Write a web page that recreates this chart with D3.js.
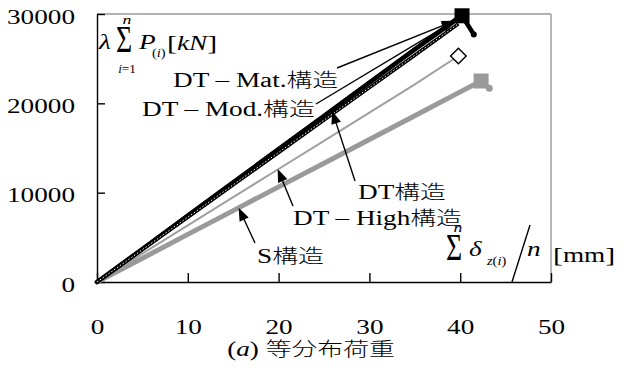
<!DOCTYPE html>
<html>
<head>
<meta charset="utf-8">
<script src="https://cdn.jsdelivr.net/npm/d3@7"></script>
<style>
  body { margin: 0; background: #fff; }
  svg { display: block; }
</style>
</head>
<body>
<svg id="chart" width="632" height="372"></svg>
<script>
// Load vs. mean vertical displacement for each structure type
const dispDT   = [0, 5, 10, 15, 20, 25, 30, 35, 40.2, 41.5];
const loadDT   = [0, 3700, 7420, 11120, 14850, 18560, 22300, 26020, 29800, 27700];
const dispMat  = [0, 5, 10, 15, 20, 25, 30, 35, 40.0];
const loadMat  = [0, 3760, 7520, 11250, 14980, 18700, 22430, 26150, 29850];
const dispMod  = [0, 5, 10, 15, 20, 25, 30, 35, 39.8];
const loadMod  = [0, 3620, 7250, 10880, 14500, 18120, 21750, 25380, 28900];
const dispHigh = [0, 5, 10, 15, 20, 25, 30, 35, 39.8];
const loadHigh = [0, 3170, 6340, 9500, 12650, 15800, 18960, 22120, 25300];
const dispS    = [0, 5, 10, 15, 20, 25, 30, 35, 40, 42.3, 43.2];
const loadS    = [0, 2660, 5330, 7990, 10650, 13300, 15960, 18620, 21280, 22500, 21700];

const xTicks = [0, 10, 20, 30, 40, 50];
const yTicks = [0, 10000, 20000, 30000];

const SERIF = "'Liberation Serif', 'Times New Roman', serif";
const CJK = "'Noto Sans CJK JP', sans-serif";
const SX = 1.36;   // horizontal text stretch
const FS = 20;

const svg = d3.select("#chart");
const x = d3.scaleLinear().domain([0, 50]).range([97, 551]);
const y = d3.scaleLinear().domain([0, 30000]).range([282, 14]);

const pts = (xs, ys) => xs.map((d, i) => [d, ys[i]]);
const line = d3.line().x(d => x(d[0])).y(d => y(d[1]));

// frame: grey top/right borders
svg.append("line").attr("x1", x(0)).attr("x2", x(50)).attr("y1", y(30000)).attr("y2", y(30000))
  .attr("stroke", "#9a9a9a").attr("stroke-width", 1.4);
svg.append("line").attr("x1", x(50)).attr("x2", x(50)).attr("y1", y(30000)).attr("y2", y(0))
  .attr("stroke", "#9a9a9a").attr("stroke-width", 1.4);

// axes
const gx = svg.append("g").attr("transform", `translate(0,${y(0)})`)
  .call(d3.axisBottom(x).tickValues(xTicks).tickFormat(d3.format("d"))
    .tickSizeInner(-9).tickSizeOuter(0).tickPadding(38));
const gy = svg.append("g").attr("transform", `translate(${x(0)},0)`)
  .call(d3.axisLeft(y).tickValues(yTicks).tickFormat(d3.format("d"))
    .tickSizeInner(-8).tickSizeOuter(0).tickPadding(0));
[gx, gy].forEach(g => {
  g.selectAll("path, line").attr("stroke", "#000").attr("stroke-width", 1.4);
  g.selectAll("text").attr("fill", "#000").style("font-family", SERIF).style("font-size", FS + "px");
});
gx.selectAll("text").attr("transform", `scale(${SX},1)`);
gy.selectAll("text").attr("x", 0).attr("dy", "0.45em").attr("transform", `translate(-22,0) scale(${SX},1)`);

// data lines
const plot = svg.append("g");
plot.append("path").datum(pts(dispS, loadS)).attr("d", line)
  .attr("fill", "none").attr("stroke", "#9a9a9a").attr("stroke-width", 5).attr("stroke-linecap", "round");
plot.append("path").datum(pts(dispHigh, loadHigh)).attr("d", line)
  .attr("fill", "none").attr("stroke", "#a0a0a0").attr("stroke-width", 2);
plot.append("path").datum(pts(dispDT, loadDT)).attr("d", line)
  .attr("fill", "none").attr("stroke", "#000").attr("stroke-width", 4.5).attr("stroke-linecap", "round");
plot.append("path").datum(pts(dispMat, loadMat)).attr("d", line)
  .attr("fill", "none").attr("stroke", "#000").attr("stroke-width", 3);
plot.append("path").datum(pts(dispMod, loadMod)).attr("d", line)
  .attr("fill", "none").attr("stroke", "#000").attr("stroke-width", 3.5);
plot.append("path").datum(pts(dispMod, loadMod)).attr("d", line)
  .attr("fill", "none").attr("stroke", "#fff").attr("stroke-width", 1).attr("stroke-dasharray", "1.5,2");

// end markers at peak load
const peakIdx = ys => ys.indexOf(d3.max(ys));
const sq = 15;
const iS = peakIdx(loadS), iDT = peakIdx(loadDT);
plot.append("rect").attr("x", x(dispS[iS]) - sq / 2).attr("y", y(loadS[iS]) - sq / 2)
  .attr("width", sq).attr("height", sq).attr("fill", "#9a9a9a");
plot.append("circle").attr("cx", x(dispS[dispS.length - 1])).attr("cy", y(loadS[loadS.length - 1]))
  .attr("r", 3.5).attr("fill", "#9a9a9a");
plot.append("rect").attr("x", x(dispDT[iDT]) - sq / 2).attr("y", y(loadDT[iDT]) - sq / 2)
  .attr("width", sq).attr("height", sq).attr("fill", "#000");
plot.append("circle").attr("cx", x(dispDT[dispDT.length - 1])).attr("cy", y(loadDT[loadDT.length - 1]))
  .attr("r", 3).attr("fill", "#000");
const hx = x(dispHigh[dispHigh.length - 1]), hy = y(loadHigh[loadHigh.length - 1]);
plot.append("rect").attr("x", -5.5).attr("y", -5.5).attr("width", 11).attr("height", 11)
  .attr("transform", `translate(${hx},${hy}) rotate(45)`)
  .attr("fill", "#fff").attr("stroke", "#000").attr("stroke-width", 1.4);

// text helper with horizontal stretch; CJK runs use a lighter sans face
const isCJK = ch => /[\u3000-\u9fff]/.test(ch);
function label(g, px, py, parts, anchor = "start", sx = SX) {
  const t = g.append("text").attr("transform", `translate(${px},${py}) scale(${sx},1)`)
    .attr("text-anchor", anchor).style("font-family", SERIF).style("font-size", FS + "px").attr("fill", "#000");
  parts.forEach(p => {
    const runs = [];
    for (const ch of p.t) {
      const c = isCJK(ch);
      if (runs.length && runs[runs.length - 1].c === c) runs[runs.length - 1].s += ch;
      else runs.push({c, s: ch});
    }
    runs.forEach((r, k) => {
      const s = t.append("tspan").text(r.s);
      if (r.c) s.style("font-family", CJK).style("font-weight", 300).style("font-size", "19px");
      if (p.i) s.style("font-style", "italic");
      if (p.fs) s.style("font-size", p.fs + "px");
      if (p.dy && k === 0) s.attr("dy", p.dy);
    });
  });
  return t;
}

// annotation leaders with arrowheads
function arrow(x1, y1, x2, y2) {
  const dx = x2 - x1, dy = y2 - y1, L = Math.hypot(dx, dy);
  const ux = dx / L, uy = dy / L, len = 13, hw = 5;
  const bx = x2 - ux * len, by = y2 - uy * len;
  svg.append("line").attr("x1", x1).attr("y1", y1).attr("x2", bx + ux * 2).attr("y2", by + uy * 2)
    .attr("stroke", "#000").attr("stroke-width", 1.4);
  svg.append("path")
    .attr("d", `M${x2},${y2}L${bx - uy * hw},${by + ux * hw}L${bx + uy * hw},${by - ux * hw}Z`)
    .attr("fill", "#000");
}
arrow(337, 68, x(39.4), y(29250));
arrow(316, 104, x(39.4), y(29250));
arrow(355, 181, x(25.9), y(19150));
arrow(293, 206, x(19.9), y(12650));
arrow(255, 243, x(15.6), y(8300));

const ann = svg.append("g");
label(ann, 173, 87, [{t: "DT – Mat.構造"}]);
label(ann, 142, 116, [{t: "DT – Mod.構造"}]);
label(ann, 358, 199, [{t: "DT構造"}]);
label(ann, 293, 225, [{t: "DT – High構造"}]);
label(ann, 257, 263, [{t: "S構造"}]);

// y-axis title
const yt = svg.append("g");
label(yt, 99, 49, [{t: "λ", i: true}]);
label(yt, 116, 52, [{t: "Σ", fs: 37}], "start", 0.75);
label(yt, 127, 24, [{t: "n", i: true, fs: 13}], "middle");
label(yt, 127, 73, [{t: "i", i: true, fs: 12}, {t: "=1", fs: 12}], "middle", 1.1);
label(yt, 139, 49, [{t: "P", i: true}]);
label(yt, 152, 57, [{t: "(", fs: 12}, {t: "i", i: true, fs: 12}, {t: ")", fs: 12}], "start", 1.2);
label(yt, 167, 50, [{t: "[", fs: 22}, {t: "kN", i: true}, {t: "]", fs: 22}]);

// x-axis title
svg.append("clipPath").attr("id", "plotclip").append("rect")
  .attr("x", x(0)).attr("y", y(30000)).attr("width", x(50) - x(0)).attr("height", y(0) - y(30000));
const xt = svg.append("g").attr("clip-path", "url(#plotclip)");
label(xt, 446, 260, [{t: "Σ", fs: 37}], "start", 0.75);
label(xt, 458, 232, [{t: "n", i: true, fs: 13}], "middle");
label(xt, 456, 291, [{t: "i", i: true, fs: 12}, {t: "=1", fs: 12}], "middle", 1.1);
label(xt, 469, 256, [{t: "δ", i: true}]);
label(xt, 487, 265, [{t: "z", i: true, fs: 12}, {t: "(", fs: 12}, {t: "i", i: true, fs: 12}, {t: ")", fs: 12}], "start", 1.2);
svg.append("line").attr("x1", 512).attr("y1", y(0)).attr("x2", 530).attr("y2", 225)
  .attr("stroke", "#000").attr("stroke-width", 1.4);
label(xt, 527, 256, [{t: "n", i: true}]);
label(svg, 553, 262, [{t: "[", fs: 22}, {t: "mm"}, {t: "]", fs: 22}]);

// caption
label(svg, 311, 356, [{t: "("}, {t: "a", i: true}, {t: ")  等分布荷重"}], "middle");
</script>
</body>
</html>
